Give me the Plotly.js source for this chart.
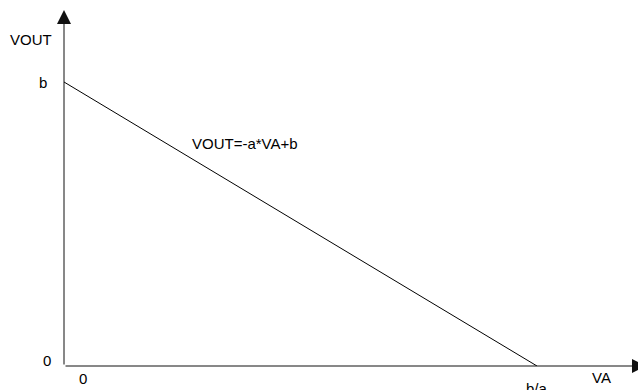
<!DOCTYPE html>
<html>
<head>
<meta charset="utf-8">
<script src="https://cdn.plot.ly/plotly-3.0.1.min.js"></script>
<style>
  html, body { margin: 0; padding: 0; background: #fff; }
  #chart { width: 638px; height: 390px; }
</style>
</head>
<body>
<div id="chart"></div>
<script>
// VOUT = -a*VA + b, with a = b = 1 so the line meets the axes at b and b/a
var vaValues = [0, 1];
var voutValues = [1, 0];

var yTickVals = [0, 1];
var yTickText = ['0', 'b'];
var xTickVals = [0, 1];
var xTickText = ['0', 'b/a'];

var xAxisTitle = 'VA';
var yAxisTitle = 'VOUT';
var lineLabel = 'VOUT=-a*VA+b';

var txtFont = {family: 'Liberation Sans, Arial, sans-serif', size: 15, color: '#000'};

var line = {
  x: vaValues,
  y: voutValues,
  type: 'scatter',
  mode: 'lines',
  line: {color: '#000', width: 1},
  hoverinfo: 'none',
  showlegend: false
};

// plot area is 574 x 366 px, helpers turn pixel spots into paper coords
function px(p) { return (p - 64) / 574; }
function py(p) { return (366 - p) / 366; }

var notes = [];

// the two axes drawn as arrows from the origin
notes.push({x: 1.2304, y: 0, ax: 0, ay: 0, xref: 'x', yref: 'y', axref: 'x', ayref: 'y',
  showarrow: true, arrowhead: 2, arrowsize: 2.8, arrowwidth: 1, arrowcolor: '#111', text: ''});
notes.push({x: 0, y: 1.2535, ax: 0, ay: 0, xref: 'x', yref: 'y', axref: 'x', ayref: 'y',
  showarrow: true, arrowhead: 2, arrowsize: 2.8, arrowwidth: 1, arrowcolor: '#111', text: ''});

// y tick labels
notes.push({text: yTickText[0], xref: 'paper', x: px(47), yref: 'y', y: yTickVals[0], yshift: 6,
  showarrow: false, font: txtFont, xanchor: 'center', yanchor: 'middle'});
notes.push({text: yTickText[1], xref: 'paper', x: px(42.5), yref: 'y', y: yTickVals[1], yshift: -1,
  showarrow: false, font: txtFont, xanchor: 'center', yanchor: 'middle'});
// x tick labels
notes.push({text: xTickText[0], xref: 'x', x: xTickVals[0], xshift: 19, yref: 'paper', y: py(378),
  showarrow: false, font: txtFont, xanchor: 'center', yanchor: 'middle'});
notes.push({text: xTickText[1], xref: 'x', x: xTickVals[1], yref: 'paper', y: py(388),
  showarrow: false, font: txtFont, xanchor: 'center', yanchor: 'middle'});

// axis names and the line label
notes.push({text: xAxisTitle, xref: 'paper', x: px(601), yref: 'paper', y: py(377),
  showarrow: false, font: txtFont, xanchor: 'center', yanchor: 'middle'});
notes.push({text: yAxisTitle, xref: 'paper', x: px(31), yref: 'paper', y: py(39),
  showarrow: false, font: txtFont, xanchor: 'center', yanchor: 'middle'});
notes.push({text: lineLabel, xref: 'paper', x: px(190), yref: 'paper', y: py(143),
  showarrow: false, font: txtFont, xanchor: 'left', yanchor: 'middle'});

var layout = {
  width: 638,
  height: 390,
  margin: {l: 64, r: 0, t: 0, b: 24},
  paper_bgcolor: '#fff',
  plot_bgcolor: '#fff',
  showlegend: false,
  xaxis: {range: [0, 1.2135], showgrid: false, zeroline: false, showline: false,
          showticklabels: false, ticks: '', fixedrange: true},
  yaxis: {range: [0, 1.2887], showgrid: false, zeroline: false, showline: false,
          showticklabels: false, ticks: '', fixedrange: true},
  annotations: notes
};

Plotly.newPlot('chart', [line], layout, {displayModeBar: false, staticPlot: true});
</script>
</body>
</html>
